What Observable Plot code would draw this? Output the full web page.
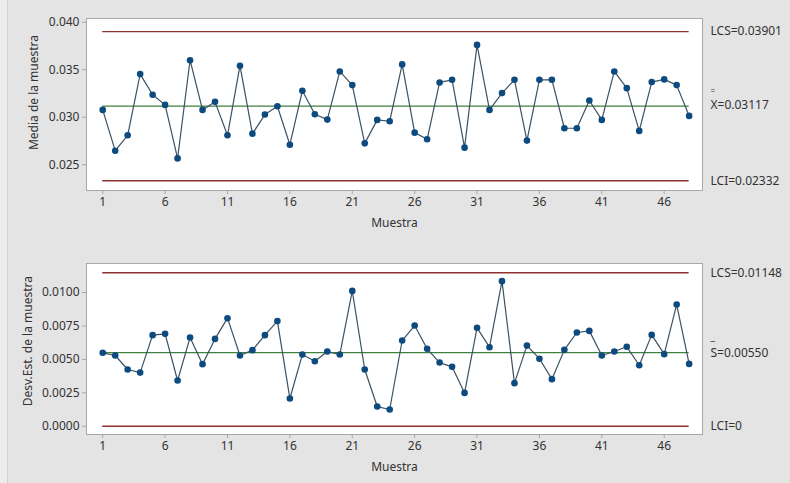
<!DOCTYPE html>
<html>
<head>
<meta charset="utf-8">
<script src="https://cdn.jsdelivr.net/npm/d3@7"></script>
<script src="https://cdn.jsdelivr.net/npm/@observablehq/plot@0.6"></script>
<style>
  html, body { margin: 0; padding: 0; background: #ececec; }
  #wrap { position: relative; width: 790px; height: 483px; overflow: hidden; background: #ececec; font-family: "Noto Sans", sans-serif; }
  #panel { position: absolute; left: 7px; top: 0; width: 782px; height: 483px; background: #e4e4e4; border-left: 1px solid #d2d2d2; }
  .chart { position: absolute; left: 0; }
</style>
</head>
<body>
<div id="wrap"><div id="panel"></div></div>
<script>
// Sample means (Xbar chart)
const medias = [0.03077, 0.02648, 0.02810, 0.03454, 0.03236, 0.03130, 0.02567, 0.03600,
  0.03077, 0.03162, 0.02810, 0.03542, 0.02827, 0.03028, 0.03116, 0.02711,
  0.03278, 0.03032, 0.02975, 0.03482, 0.03338, 0.02725, 0.02972, 0.02958,
  0.03556, 0.02838, 0.02768, 0.03366, 0.03394, 0.02680, 0.03761, 0.03077,
  0.03254, 0.03394, 0.02754, 0.03394, 0.03394, 0.02884, 0.02884, 0.03176,
  0.02972, 0.03482, 0.03306, 0.02856, 0.03370, 0.03398, 0.03338, 0.03014];
// Sample standard deviations (S chart)
const desvs = [0.00549, 0.00529, 0.00424, 0.00401, 0.00681, 0.00691, 0.00342, 0.00663,
  0.00464, 0.00653, 0.00808, 0.00529, 0.00569, 0.00681, 0.00786, 0.00207,
  0.00536, 0.00486, 0.00559, 0.00536, 0.01012, 0.00424, 0.00147, 0.00125,
  0.00641, 0.00753, 0.00579, 0.00476, 0.00444, 0.00249, 0.00736, 0.00591,
  0.01085, 0.00322, 0.00603, 0.00505, 0.00352, 0.00571, 0.00701, 0.00713,
  0.00529, 0.00559, 0.00594, 0.00456, 0.00683, 0.00539, 0.00910, 0.00466];
const muestras = d3.range(1, 49);
const xTicks = [1, 6, 11, 16, 21, 26, 31, 36, 41, 46];

// Control limits
const limitesX = {lcs: 0.03901, lc: 0.03117, lci: 0.02332};
const limitesS = {lcs: 0.01148, lc: 0.00550, lci: 0};
const etiquetasX = {lcs: "LCS=0.03901", lc: "X=0.03117", bar: "=", lci: "LCI=0.02332"};
const etiquetasS = {lcs: "LCS=0.01148", lc: "S=0.00550", bar: "_", lci: "LCI=0"};
const yTicksX = [0.025, 0.030, 0.035, 0.040];
const yTicksS = [0, 0.0025, 0.005, 0.0075, 0.01];

const C = {line: "#3b5262", dot: "#0d4a80", limit: "#8e3131", center: "#3f7f3f", frame: "#a8a8a8", text: "#333"};

function chart({values, lim, lab, yTicks, fmt, yDomain, ylabel, ylabelPos, height, marginTop, marginBottom}) {
  const data = muestras.map((m, i) => ({m, v: values[i]}));
  const xEnd = 49.07;
  const isX = lab.bar === "=";
  return Plot.plot({
    width: 782,
    height,
    marginLeft: 78,
    marginRight: 88,
    marginTop,
    marginBottom,
    style: {fontFamily: "Noto Sans, sans-serif", fontSize: "12px", color: C.text, background: "transparent", overflow: "visible"},
    x: {domain: [-0.3, xEnd]},
    y: {domain: yDomain},
    marks: [
      Plot.frame({fill: "white", stroke: C.frame}),
      Plot.axisX({ticks: xTicks, tickSize: 4, tickPadding: 3, stroke: C.frame, fontSize: 12,
        label: "Muestra", labelAnchor: "center", labelArrow: "none", labelOffset: 36}),
      Plot.axisY({ticks: yTicks, tickFormat: fmt, tickSize: 4, tickPadding: 3, stroke: C.frame, fontSize: 12, label: null}),
      Plot.text([{t: ylabel, ...ylabelPos}], {x: "x", y: "y", text: "t", rotate: -90, textAnchor: "middle", lineAnchor: "middle", fontSize: 12, fill: C.text}),
      Plot.ruleY([lim.lcs, lim.lci], {x1: 1, x2: 48, stroke: C.limit, strokeWidth: 1.4}),
      Plot.ruleY([lim.lc], {x1: 1, x2: 48, stroke: C.center, strokeWidth: 1.3}),
      Plot.line(data, {x: "m", y: "v", stroke: C.line, strokeWidth: 1.2}),
      Plot.dot(data, {x: "m", y: "v", r: 3.3, fill: C.dot, stroke: "none"}),
      Plot.text([{y: lim.lcs, t: lab.lcs}, {y: lim.lci, t: lab.lci}],
        {x: xEnd, y: "y", text: "t", dx: 8, textAnchor: "start", fill: C.text, fontSize: 12}),
      Plot.text([{y: lim.lc, t: lab.lc}],
        {x: xEnd, y: "y", text: "t", dx: 8, dy: isX ? -1 : 0, textAnchor: "start", fill: C.text, fontSize: 12}),
      Plot.text([{y: lim.lc, t: lab.bar}],
        {x: xEnd, y: "y", text: "t", dx: 8, dy: isX ? -15 : -16, textAnchor: "start", fill: C.text, fontSize: isX ? 8 : 10})
    ]
  });
}

const chartTop = chart({values: medias, lim: limitesX, lab: etiquetasX, yTicks: yTicksX, fmt: d3.format(".3f"),
  yDomain: [0.02229, 0.04039], ylabel: "Media de la muestra", ylabelPos: {x: -4.5, y: 0.0326},
  height: 240, marginTop: 18, marginBottom: 50});
const chartBottom = chart({values: desvs, lim: limitesS, lab: etiquetasS, yTicks: yTicksS, fmt: d3.format(".4f"),
  yDomain: [-0.00062, 0.01217], ylabel: "Desv.Est. de la muestra", ylabelPos: {x: -5.0, y: 0.00636},
  height: 243, marginTop: 23, marginBottom: 49});

chartTop.classList.add("chart"); chartTop.style.top = "0px";
chartBottom.classList.add("chart"); chartBottom.style.top = "240px";
const panel = document.getElementById("panel");
panel.appendChild(chartTop);
panel.appendChild(chartBottom);
</script>
</body>
</html>
